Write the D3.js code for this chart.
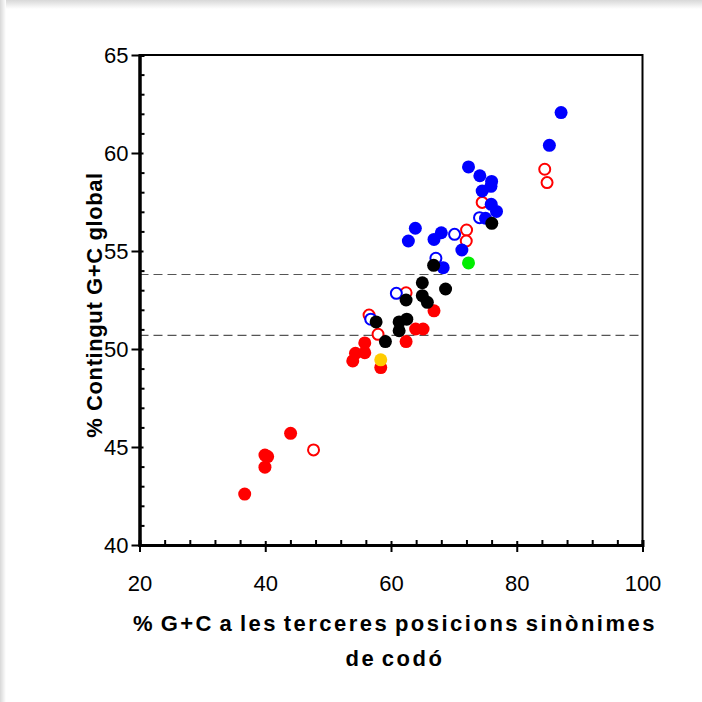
<!DOCTYPE html>
<html>
<head>
<meta charset="utf-8">
<script src="https://cdn.jsdelivr.net/npm/d3@7"></script>
<style>
  body { margin: 0; background: #fff; }
  svg { display: block; }
</style>
</head>
<body>
<svg id="graf" width="702" height="702"></svg>
<script>
// punts: [x, y]  (x = % G+C tercera posicio, y = % G+C global)
const blauPle = [
  [87.05, 62.06], [85.19, 60.39], [72.33, 59.29], [74.13, 58.84], [76.0, 58.55],
  [75.9, 58.3], [74.5, 58.06], [75.94, 57.38], [76.78, 57.02], [75.03, 56.67],
  [63.87, 56.16], [62.76, 55.51], [68.0, 55.93], [66.84, 55.59], [71.27, 55.05],
  [68.3, 54.15]
];
const blauBuit = [
  [70.11, 55.85], [67.14, 54.63], [60.85, 52.84], [56.78, 51.52], [74.08, 56.7]
];
const vermellBuit = [
  [84.45, 59.17], [84.82, 58.49], [74.5, 57.48], [72.02, 56.07], [71.97, 55.51],
  [62.4, 52.87], [56.51, 51.73], [57.94, 50.75], [47.68, 44.85]
];
const vermellPle = [
  [66.84, 51.95], [63.92, 51.02], [65.1, 51.02], [62.4, 50.38], [55.83, 50.31],
  [54.35, 49.78], [55.83, 49.81], [53.92, 49.39], [58.37, 49.05], [44.03, 45.7],
  [39.95, 44.59], [40.38, 44.51], [39.95, 43.97], [36.73, 42.6]
];
const negre = [
  [76.03, 56.41], [66.78, 54.27], [64.98, 53.38], [68.68, 53.06], [64.98, 52.72],
  [65.78, 52.38], [62.4, 52.5], [57.63, 51.38], [61.29, 51.38], [62.51, 51.52],
  [61.29, 50.93], [59.11, 50.38]
];
const groc = [[58.37, 49.45]];
const verd = [[72.33, 54.39]];
const linies = [53.8, 50.7];

const xTicks = [20, 40, 60, 80, 100];
const yTicks = [40, 45, 50, 55, 60, 65];

const svg = d3.select("#graf");
const font = "Liberation Sans, Arial, sans-serif";

// ombra del marc
const defs = svg.append("defs");
const gt = defs.append("linearGradient").attr("id", "ombraT").attr("x1", 0).attr("y1", 0).attr("x2", 0).attr("y2", 1);
gt.append("stop").attr("offset", 0).attr("stop-color", "#d8d8d8");
gt.append("stop").attr("offset", 1).attr("stop-color", "#ffffff");
const gl = defs.append("linearGradient").attr("id", "ombraL").attr("x1", 0).attr("y1", 0).attr("x2", 1).attr("y2", 0);
gl.append("stop").attr("offset", 0).attr("stop-color", "#d8d8d8");
gl.append("stop").attr("offset", 1).attr("stop-color", "#ffffff");
svg.append("rect").attr("x", 0).attr("y", 0).attr("width", 702).attr("height", 9).attr("fill", "url(#ombraT)");
svg.append("rect").attr("x", 0).attr("y", 0).attr("width", 6).attr("height", 702).attr("fill", "url(#ombraL)");

const x = d3.scaleLinear().domain([20, 100]).range([139.5, 642.5]);
const y = d3.scaleLinear().domain([40, 65]).range([545, 55]);

// marc superior i dret
svg.append("path")
  .attr("d", `M${x(20)},${y(65)}H${x(100)}V${y(40)}`)
  .attr("fill", "none").attr("stroke", "#000").attr("stroke-width", 2);

// linies discontinues
svg.selectAll("line.dash")
  .data(linies)
  .enter()
  .append("line")
  .attr("class", "dash")
  .attr("x1", x(20)).attr("x2", x(100))
  .attr("y1", d => y(d)).attr("y2", d => y(d))
  .attr("stroke", "#555").attr("stroke-width", 1.2)
  .attr("stroke-dasharray", "9,5");

// eix x
const gx = svg.append("g").attr("transform", `translate(0,${y(40)})`);
gx.call(d3.axisBottom(x).tickValues(d3.range(24, 100, 4).filter(v => v % 20 !== 0)).tickSize(-5).tickFormat(""));
gx.call(g => g.append("g").call(d3.axisBottom(x).tickValues(xTicks).tickSize(7).tickSizeOuter(0)
  .tickFormat(d3.format("d"))));
gx.selectAll(".domain").attr("stroke-width", 3);
gx.selectAll(".tick line").attr("stroke-width", 2);
gx.selectAll("g g .tick line").attr("y1", -4);
gx.selectAll("text").attr("font-family", font)
  .attr("font-size", 22).attr("fill", "#000").attr("y", 46).attr("dy", 0);

// eix y
const gy = svg.append("g").attr("transform", `translate(${x(20)},0)`);
gy.call(d3.axisLeft(y).tickValues(d3.range(41, 65, 1).filter(v => v % 5 !== 0)).tickSize(-5).tickFormat(""));
gy.call(g => g.append("g").call(d3.axisLeft(y).tickValues(yTicks).tickSize(8).tickSizeOuter(0)
  .tickFormat(d3.format("d"))));
gy.selectAll(".domain").attr("stroke-width", 3);
gy.selectAll(".tick line").attr("stroke-width", 2);
gy.selectAll("g g .tick line").attr("x1", 4);
gy.selectAll("text").attr("font-family", font)
  .attr("font-size", 22).attr("fill", "#000").attr("x", -11).attr("dy", "0.35em");

// punts
const r = 6.5;
function plens(dades, color) {
  svg.append("g").selectAll("circle")
    .data(dades)
    .enter()
    .append("circle")
    .attr("cx", d => x(d[0]))
    .attr("cy", d => y(d[1]))
    .attr("r", r)
    .attr("fill", color);
}
function buits(dades, color) {
  svg.append("g").selectAll("circle")
    .data(dades)
    .enter()
    .append("circle")
    .attr("cx", d => x(d[0]))
    .attr("cy", d => y(d[1]))
    .attr("r", r - 1)
    .attr("fill", "#fff")
    .attr("stroke", color)
    .attr("stroke-width", 2);
}
buits(vermellBuit, "#ff0000");
buits(blauBuit, "#0000ff");
plens(vermellPle, "#ff0000");
plens(blauPle, "#0000ff");
plens(groc, "#ffcc00");
plens(verd, "#00ee00");
plens(negre, "#000000");

// titols
const titol = svg.append("g")
  .attr("font-family", font)
  .attr("font-weight", "bold").attr("font-size", 22).attr("fill", "#000")
  .attr("text-anchor", "middle");
titol.append("text").attr("x", 395).attr("y", 631).attr("letter-spacing", 2.5).attr("word-spacing", -3)
  .text("% G+C a les terceres posicions sinònimes");
titol.append("text").attr("x", 395).attr("y", 666).attr("letter-spacing", 2.5).attr("word-spacing", -3)
  .text("de codó");
titol.append("text")
  .attr("transform", "translate(102,305) rotate(-90)")
  .attr("letter-spacing", 0.6)
  .text("% Contingut G+C global");
</script>
</body>
</html>
